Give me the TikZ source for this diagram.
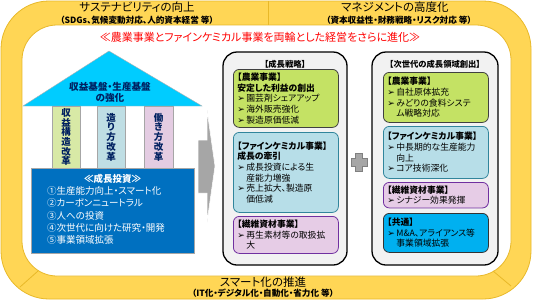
\documentclass[tikz,border=0pt]{standalone}
\usepackage{fontspec}
\setmainfont{Noto Sans CJK JP}[RawFeature=+palt]
\newfontfamily\bulletfont{DejaVu Sans}
\usepackage{tikz}
\newcommand{\bul}{{\bulletfont\small ➢}\,}
\newcommand{\indt}{\hphantom{\bul}}
\definecolor{frameyellow}{RGB}{255,214,85}
\definecolor{frameedge}{RGB}{232,184,40}
\definecolor{roofcyan}{RGB}{0,204,255}
\definecolor{navy}{RGB}{0,32,96}
\definecolor{pillargreen}{RGB}{216,233,166}
\definecolor{pillarblue}{RGB}{191,222,228}
\definecolor{pillarpink}{RGB}{228,204,226}
\definecolor{investblue}{RGB}{0,112,192}
\definecolor{panelgray}{RGB}{242,242,242}
\definecolor{agrigreen}{RGB}{196,226,100}
\definecolor{fineblue}{RGB}{183,222,232}
\definecolor{fineedge}{RGB}{49,133,156}
\definecolor{fiberpink}{RGB}{230,204,230}
\definecolor{fiberedge}{RGB}{112,48,160}
\definecolor{commoncyan}{RGB}{0,176,240}
\definecolor{arrowgray}{RGB}{166,166,166}

\begin{document}
\begin{tikzpicture}[x=1pt, y=-1pt,
    panel/.style={draw=black, line width=1.3pt, fill=panelgray, rounded corners=14pt},
    itembox/.style={anchor=north west, rounded corners=6pt, line width=0.8pt, text width=97pt,
        inner xsep=4pt, align=left, font=\fontsize{8.8}{10.6}\selectfont},
    agri/.style={itembox, fill=agrigreen, draw=black!75},
    fine/.style={itembox, fill=fineblue, draw=fineedge},
    fiber/.style={itembox, fill=fiberpink, draw=fiberedge},
    common/.style={itembox, fill=commoncyan, draw=black!80},
    pillar/.style={draw=gray!70, line width=0.6pt},
    pillartext/.style={align=center, text=navy, font=\bfseries\fontsize{9.5}{9.7}\selectfont},
    frametitle/.style={font=\fontsize{11.5}{11.5}\selectfont},
    framenote/.style={font=\bfseries\fontsize{8.6}{8.6}\selectfont},
    paneltitle/.style={font=\bfseries\fontsize{8.3}{8.3}\selectfont}]
    \useasboundingbox (0,0) rectangle (533,301);

    % The yellow frame
    \draw[frameedge, fill=frameyellow, line width=0.8pt, rounded corners=48pt] (1,1) rectangle (531,299);
    \draw[frameedge, fill=white, line width=0.8pt, rounded corners=35pt] (22,25) rectangle (511,276);
    \draw[frameedge, line width=0.8pt] (268,1) -- (268,25);
    \draw[frameedge, line width=0.8pt] (20,287) -- (38,271);
    \draw[frameedge, line width=0.8pt] (493,271) -- (511,286);

    \node[frametitle] (susttitle) at (137,7) {サステナビリティの向上};
    \node[framenote] (sustnote) at (137,20) {（SDGs、気候変動対応、人的資本経営 等）};
    \node[frametitle] (mgmttitle) at (395,7) {マネジメントの高度化};
    \node[framenote] (mgmtnote) at (399,20) {（資本収益性・財務戦略・リスク対応 等）};
    \node[frametitle] (smarttitle) at (263,282) {スマート化の推進};
    \node[framenote] (smartnote) at (263,293) {（IT化・デジタル化・自動化・省力化 等）};

    % Motto
    \node[text=red, font=\fontsize{11}{11}\selectfont] (motto) at (260,37)
        {≪農業事業とファインケミカル事業を両輪とした経営をさらに進化≫};

    % The house: roof, pillars, base
    \draw[fill=roofcyan, draw=gray!60] (23,106) -- (109,51) -- (202,106) -- cycle;
    \node[align=center, text=navy, font=\bfseries\fontsize{9.6}{11}\selectfont] (rooftext) at (110,92.5)
        {収益基盤・生産基盤\\の強化};

    \draw[pillar, fill=pillargreen] (52,106) rectangle (80,168);
    \draw[pillar, fill=pillarblue] (97,106) rectangle (125,168);
    \draw[pillar, fill=pillarpink] (144,106) rectangle (173,168);
    \node[pillartext] (profit) at (66,137) {収\\益\\構\\造\\改\\革};
    \node[pillartext] (making) at (111,137) {造\\り\\方\\改\\革};
    \node[pillartext] (working) at (158.5,137) {働\\き\\方\\改\\革};

    \draw[fill=investblue, draw=gray!70, line width=0.6pt] (31,168) rectangle (194,253);
    \node[text=white, font=\bfseries\fontsize{9.5}{9.5}\selectfont] (investtitle) at (112.5,179) {≪成長投資≫};
    \node[text=white, anchor=north west, align=left, inner sep=0pt, font=\fontsize{9.5}{12.4}\selectfont]
        (investlist) at (47,186) {①生産能力向上・スマート化\\②カーボンニュートラル\\③人への投資\\④次世代に向けた研究・開発\\⑤事業領域拡張};

    % Arrow and plus
    \fill[arrowgray, draw=white, line width=0.5pt] (198,140) -- (207,140) -- (207,110) -- (215,166)
        -- (207,222) -- (207,193) -- (198,193) -- cycle;
    \draw[fill=arrowgray, draw=gray] (355.5,153) -- (362.5,153) -- (362.5,158) -- (367,158) -- (367,166)
        -- (362.5,166) -- (362.5,171) -- (355.5,171) -- (355.5,166) -- (351,166) -- (351,158) -- (355.5,158) -- cycle;

    % Growth strategy
    \draw[panel] (223,52) rectangle (347,265);
    \node[paneltitle] (strattitle) at (285,64) {【成長戦略】};
    \node[agri, minimum height=58pt] (agriA) at (233,69)
        {\textbf{【農業事業】}\\\textbf{安定した利益の創出}\\\bul 園芸剤シェアアップ\\\bul 海外販売強化\\\bul 製造原価低減};
    \node[fine, minimum height=80pt] (fineA) at (233,132)
        {\textbf{【ファインケミカル事業】}\\\textbf{成長の牽引}\\\bul 成長投資による生\\\indt 産能力増強\\\bul 売上拡大、製造原\\\indt 価低減};
    \node[fiber, minimum height=37pt] (fiberA) at (233,216)
        {\textbf{【繊維資材事業】}\\\bul 再生素材等の取扱拡\\\indt 大};

    % Next generation
    \draw[panel] (372,52) rectangle (498,265);
    \node[paneltitle] (nexttitle) at (435,64) {【次世代の成長領域創出】};
    \node[agri, minimum height=50pt] (agriB) at (383,72)
        {\textbf{【農業事業】}\\\bul 自社原体拡充\\\bul みどりの食料システ\\\indt ム戦略対応};
    \node[fine, minimum height=52pt] (fineB) at (383,126)
        {\textbf{【ファインケミカル事業】}\\\bul 中長期的な生産能力\\\indt 向上\\\bul コア技術深化};
    \node[fiber, minimum height=25pt] (fiberB) at (383,182)
        {\textbf{【繊維資材事業】}\\\bul シナジー効果発揮};
    \node[common, minimum height=39pt] (commonB) at (383,213)
        {\textbf{【共通】}\\\bul M\&A、アライアンス等\\\indt 事業領域拡張};
\end{tikzpicture}
\end{document}
